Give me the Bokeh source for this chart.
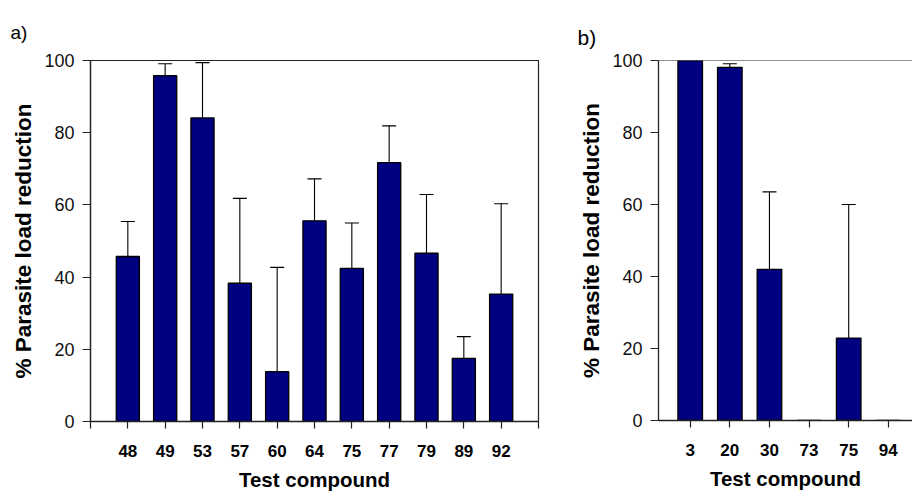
from bokeh.plotting import figure
from bokeh.models import (ColumnDataSource, FixedTicker, Range1d, Whisker, TeeHead,
                          Span, Title)
from bokeh.layouts import row
from bokeh.embed import file_html
from bokeh.resources import INLINE

# ---------------- data ----------------
cats_a = ["48", "49", "53", "57", "60", "64", "75", "77", "79", "89", "92"]
vals_a = [45.7, 95.8, 84.1, 38.3, 13.8, 55.6, 42.4, 71.7, 46.6, 17.5, 35.3]
errs_a = [9.7, 3.3, 15.3, 23.5, 28.9, 11.6, 12.6, 10.2, 16.3, 6.0, 25.0]

cats_b = ["3", "20", "30", "73", "75", "94"]
vals_b = [100.0, 98.1, 42.0, 0.0, 22.9, 0.0]
errs_b = [0.0, 1.0, 21.5, 0.0, 37.1, 0.0]

y_ticks = [0, 20, 40, 60, 80, 100]
y_label = "% Parasite load reduction"
x_label = "Test compound"

FONT = "Liberation Sans"
BAR = "#000080"
AX = "#222222"


def make_panel(cats, vals, errs, x_start, x_end, edge_ticks,
               frame_w, frame_h, mb_left, mb_top, mb_right, mb_bottom, outline):
    pos = list(range(1, len(cats) + 1))
    src = ColumnDataSource(dict(x=pos, top=vals))
    ex, elo, ehi = [], [], []
    for p_, v, e in zip(pos, vals, errs):
        if e > 0:
            ex.append(p_)
            elo.append(v)
            ehi.append(v + e)
    esrc = ColumnDataSource(dict(x=ex, lo=elo, hi=ehi))

    p = figure(frame_width=frame_w, frame_height=frame_h,
               x_range=Range1d(x_start, x_end), y_range=Range1d(0, 100),
               output_backend="svg", toolbar_location=None,
               min_border_left=mb_left, min_border_top=mb_top,
               min_border_right=mb_right, min_border_bottom=mb_bottom)
    p.background_fill_color = "white"
    p.border_fill_color = "white"
    p.grid.visible = False
    if outline:
        p.outline_line_color = AX
        p.outline_line_width = 1.2
    else:
        p.outline_line_color = None
        p.add_layout(Span(location=100, dimension="width", line_color=AX, line_width=1.2))

    p.vbar(x="x", top="top", width=0.62, bottom=0, source=src,
           fill_color=BAR, line_color="black", line_width=1.3)
    w = Whisker(source=esrc, base="x", lower="lo", upper="hi", dimension="height",
                line_color="black", line_width=1.1,
                lower_head=None,
                upper_head=TeeHead(size=14, line_color="black", line_width=1.1))
    p.add_layout(w)

    # x axis
    ticks = ([0] if edge_ticks else []) + pos + ([len(cats) + 1] if edge_ticks else [])
    p.xaxis.ticker = FixedTicker(ticks=ticks)
    overrides = {pp: c for pp, c in zip(pos, cats)}
    if edge_ticks:
        overrides[0] = ""
        overrides[len(cats) + 1] = ""
    p.xaxis.major_label_overrides = overrides
    p.xaxis.major_label_text_font = FONT
    p.xaxis.major_label_text_font_style = "bold"
    p.xaxis.major_label_text_font_size = "17px"
    p.xaxis.major_label_text_color = "black"
    p.xaxis.major_label_standoff = 16
    p.xaxis.major_tick_in = 0
    p.xaxis.major_tick_out = 7
    p.xaxis.minor_tick_line_color = None
    p.xaxis.axis_label = x_label
    p.xaxis.axis_label_text_font = FONT
    p.xaxis.axis_label_text_font_style = "bold"
    p.xaxis.axis_label_text_font_size = "20.5px"
    p.xaxis.axis_label_text_color = "black"
    p.xaxis.axis_label_standoff = 8

    # y axis
    p.yaxis.ticker = FixedTicker(ticks=y_ticks)
    p.yaxis.major_label_text_font = FONT
    p.yaxis.major_label_text_font_size = "18px"
    p.yaxis.major_label_text_color = "#111111"
    p.yaxis.major_label_standoff = 8
    p.yaxis.major_tick_in = 0
    p.yaxis.major_tick_out = 8
    p.yaxis.minor_tick_line_color = None
    p.yaxis.axis_label = y_label
    p.yaxis.axis_label_text_font = FONT
    p.yaxis.axis_label_text_font_style = "bold"
    p.yaxis.axis_label_text_font_size = "22.5px"
    p.yaxis.axis_label_text_color = "black"
    p.yaxis.axis_label_standoff = 5

    for ax in (p.xaxis, p.yaxis):
        ax.axis_line_color = AX
        ax.axis_line_width = 1.3
        ax.major_tick_line_color = AX
        ax.major_tick_line_width = 1.2
    return p


pa = make_panel(cats_a, vals_a, errs_a, 0, len(cats_a) + 1, True,
                448, 361, 90, 60, 22, 70, True)
pb = make_panel(cats_b, vals_b, errs_b, 0.2, 6.61, False,
                254, 360, 98, 59, 0, 72, False)

# panel tags
pa.add_layout(Title(text="a)", align="left", offset=-80, standoff=36,
                    text_font=FONT, text_font_style="normal",
                    text_font_size="19px", text_color="black"), "above")
pb.add_layout(Title(text="b)", align="left", offset=-81, standoff=24,
                    text_font=FONT, text_font_style="normal",
                    text_font_size="21px", text_color="black"), "above")

layout = row(pa, pb, spacing=0)
open("out.html", "w").write(file_html(layout, INLINE))
